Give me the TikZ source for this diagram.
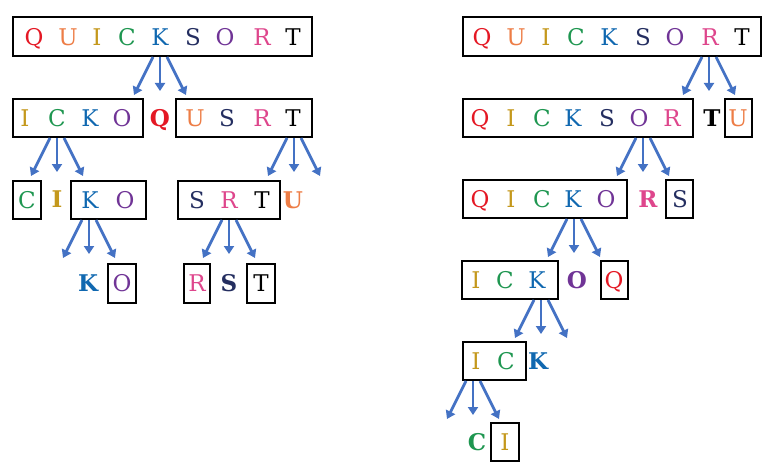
\documentclass[tikz,border=0pt]{standalone}
\usepackage{fontspec}
\setmainfont{DejaVu Serif}
\usetikzlibrary{arrows.meta,fit}
\definecolor{cQ}{RGB}{228,24,36}
\definecolor{cU}{RGB}{237,125,70}
\definecolor{cI}{RGB}{196,152,28}
\definecolor{cC}{RGB}{30,150,80}
\definecolor{cK}{RGB}{16,104,176}
\definecolor{cS}{RGB}{36,46,96}
\definecolor{cO}{RGB}{112,52,150}
\definecolor{cR}{RGB}{222,70,140}
\definecolor{cT}{RGB}{0,0,0}
\definecolor{arrowblue}{RGB}{68,114,196}
\tikzset{
  lt/.style={inner sep=0pt, text height=16.5pt, text depth=0pt, font=\fontsize{23}{23}\selectfont},
  bl/.style={lt, font=\fontsize{23}{23}\selectfont\bfseries},
  box/.style={draw=black, line width=2pt, inner sep=0pt, rectangle},
  arr/.style={draw=arrowblue, line width=2.7pt, -{Triangle[width=10pt,length=8pt]}}
}
% letter: name, x, y, letter
\newcommand\Lt[4]{\node[lt, text=c#4] (#1) at (#2,#3) {#4};}
\newcommand\Bt[4]{\node[bl, text=c#4] (#1) at (#2,#3) {#4};}
\newcommand\Bx[5]{\node[box, fit={(#2,#3) (#4,#5)}] (#1) {};}
% three arrows: prefix, centre x, top y
\newcommand\Tri[3]{%
  \coordinate (#1sl) at ({#2-7},{#3});
  \coordinate (#1sm) at ({#2},{#3});
  \coordinate (#1sr) at ({#2+7},{#3});
  \coordinate (#1el) at ({#2-26},{#3+38});
  \coordinate (#1em) at ({#2},{#3+34});
  \coordinate (#1er) at ({#2+26},{#3+38});
  \draw[arr] (#1sl) -- (#1el);
  \draw[arr] (#1sm) -- (#1em);
  \draw[arr] (#1sr) -- (#1er);}
\begin{document}
\begin{tikzpicture}[x=1pt,y=-1pt]
\useasboundingbox (0,0) rectangle (771,468);
% ---------------- left tree ----------------
\Bx{La}{13}{17}{312}{56}
\Lt{la1}{34}{37}{Q}\Lt{la2}{68}{37}{U}\Lt{la3}{97}{37}{I}\Lt{la4}{127}{37}{C}
\Lt{la5}{160}{37}{K}\Lt{la6}{193}{37}{S}\Lt{la7}{225}{37}{O}\Lt{la8}{262}{37}{R}\Lt{la9}{293}{37}{T}
\Tri{LA}{160}{57}
\Bx{Lb}{13}{99}{143}{137}
\Lt{lb1}{25}{118}{I}\Lt{lb2}{57}{118}{C}\Lt{lb3}{90}{118}{K}\Lt{lb4}{122}{118}{O}
\Bt{lb5}{160}{118}{Q}
\Bx{Lc}{176}{99}{312}{137}
\Lt{lc1}{195}{118}{U}\Lt{lc2}{227}{118}{S}\Lt{lc3}{262}{118}{R}\Lt{lc4}{293}{118}{T}
\Tri{LB}{57}{138}
\Tri{LC}{294}{138}
\Bx{Ld}{13}{181}{41}{219}
\Lt{ld1}{27}{200}{C}
\Bt{ld2}{57}{199}{I}
\Bx{Le}{71}{181}{146}{219}
\Lt{le1}{90}{200}{K}\Lt{le2}{125}{200}{O}
\Bx{Lf}{178}{181}{280}{219}
\Lt{lf1}{197}{200}{S}\Lt{lf2}{229}{200}{R}\Lt{lf3}{262}{200}{T}
\Bt{lf4}{293}{200}{U}
\Tri{LE}{89}{220}
\Tri{LF}{229}{220}
\Bt{lg1}{88}{283}{K}
\Bx{Lg}{108}{264}{136}{303}
\Lt{lg2}{122}{283}{O}
\Bx{Lh}{184}{264}{210}{303}
\Lt{lh1}{197}{283}{R}
\Bt{lh2}{229}{283}{S}
\Bx{Li}{247}{264}{275}{303}
\Lt{li1}{261}{283}{T}
% ---------------- right tree ----------------
\Bx{Ra}{463}{17}{761}{56}
\Lt{ra1}{482}{37}{Q}\Lt{ra2}{516}{37}{U}\Lt{ra3}{546}{37}{I}\Lt{ra4}{576}{37}{C}
\Lt{ra5}{609}{37}{K}\Lt{ra6}{643}{37}{S}\Lt{ra7}{675}{37}{O}\Lt{ra8}{710}{37}{R}\Lt{ra9}{742}{37}{T}
\Tri{RA}{709}{57}
\Bx{Rb}{463}{99}{693}{137}
\Lt{rb1}{480}{118}{Q}\Lt{rb2}{511}{118}{I}\Lt{rb3}{542}{118}{C}\Lt{rb4}{573}{118}{K}
\Lt{rb5}{607}{118}{S}\Lt{rb6}{639}{118}{O}\Lt{rb7}{672}{118}{R}
\Bt{rb8}{712}{118}{T}
\Bx{Rc}{725}{99}{752}{137}
\Lt{rc1}{738}{118}{U}
\Tri{RB}{643}{138}
\Bx{Rd}{463}{180}{627}{218}
\Lt{rd1}{480}{199}{Q}\Lt{rd2}{511}{199}{I}\Lt{rd3}{542}{199}{C}\Lt{rd4}{573}{199}{K}\Lt{rd5}{606}{199}{O}
\Bt{rd6}{648}{199}{R}
\Bx{Re}{666}{180}{693}{218}
\Lt{re1}{680}{199}{S}
\Tri{RD}{574}{219}
\Bx{Rf}{462}{261}{558}{299}
\Lt{rf1}{476}{280}{I}\Lt{rf2}{505}{280}{C}\Lt{rf3}{537}{280}{K}
\Bt{rf4}{577}{280}{O}
\Bx{Rg}{601}{261}{628}{299}
\Lt{rg1}{614}{280}{Q}
\Tri{RF}{541}{300}
\Bx{Rh}{463}{342}{526}{380}
\Lt{rh1}{476}{361}{I}\Lt{rh2}{506}{361}{C}
\Bt{rh3}{538}{361}{K}
\Tri{RH}{473}{381}
\Bt{ri1}{477}{442}{C}
\Bx{Ri}{491}{423}{519}{461}
\Lt{ri2}{505}{442}{I}
\end{tikzpicture}
\end{document}
